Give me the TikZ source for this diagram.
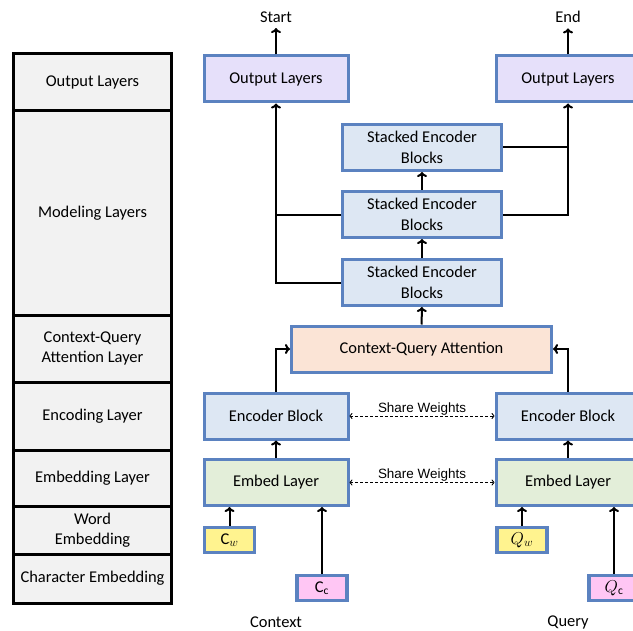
\documentclass[tikz,border=0pt]{standalone}
\usepackage{fontspec}
\setmainfont{Carlito}
\newfontfamily\arial{Liberation Sans}
\usetikzlibrary{arrows.meta}
\definecolor{bordure}{HTML}{5B82C0}
\definecolor{gris}{HTML}{F2F2F2}
\definecolor{violet}{HTML}{E6E0FA}
\definecolor{bleu}{HTML}{DDE7F3}
\definecolor{peche}{HTML}{FBE4D6}
\definecolor{vert}{HTML}{E3EED9}
\definecolor{jaune}{HTML}{FFF38F}
\definecolor{rose}{HTML}{FFC6F4}
\begin{document}
\begin{tikzpicture}[x=1bp,y=-1bp]
% Styles
\tikzstyle{couche}=[draw=black,line width=3bp,fill=gris,minimum width=158bp,inner sep=0pt,align=center]
\tikzstyle{bloc}=[draw=bordure,line width=3bp,minimum width=144bp,minimum height=46bp,inner sep=2bp,align=center]
\tikzstyle{entree}=[draw=bordure,line width=3.5bp,minimum width=50bp,minimum height=25bp,inner sep=0pt,font=\fontsize{16.5}{18}\selectfont]
\tikzstyle{fleche}=[-{To[length=5bp,width=10bp]},line width=2bp]
\tikzstyle{trait}=[line width=2bp]
\tikzstyle{partage}=[{To[length=3bp,width=6bp]}-{To[length=3bp,width=6bp]},line width=0.9bp,dash pattern=on 3bp off 2bp]
\tikzstyle{poids}=[font=\arial\fontsize{13.5}{15}\selectfont,inner sep=0.5bp]
\fontsize{16.5}{20.5}\selectfont
% Cadre
\useasboundingbox (0,0) rectangle (633,631);
% Colonne de gauche
\node[couche,minimum height=57bp] (cSortie) at (92.5,82.5) {Output Layers};
\node[couche,minimum height=204bp] (cModele) at (92.5,213) {Modeling Layers};
\node[couche,minimum height=67bp] (cAttention) at (92.5,348.5) {Context-Query\\Attention Layer};
\node[couche,minimum height=68bp] (cEncodage) at (92.5,416) {Encoding Layer};
\node[couche,minimum height=56bp] (cPlongement) at (92.5,478) {Embedding Layer};
\node[couche,minimum height=48bp] (cMot) at (92.5,530) {Word\\Embedding};
\node[couche,minimum height=49bp] (cCaractere) at (92.5,578.5) {Character Embedding};
% Sorties
\node (debut) at (276,17) {Start};
\node (fin) at (568,17) {End};
\node[bloc,fill=violet] (sortieG) at (276,79) {Output Layers};
\node[bloc,fill=violet] (sortieD) at (568,79) {Output Layers};
% Blocs empiles
\node[bloc,fill=bleu,minimum width=159bp] (pile3) at (422,147.5) {Stacked Encoder\\Blocks};
\node[bloc,fill=bleu,minimum width=159bp] (pile2) at (422,214.5) {Stacked Encoder\\Blocks};
\node[bloc,fill=bleu,minimum width=159bp] (pile1) at (422,282.5) {Stacked Encoder\\Blocks};
% Attention
\node[bloc,fill=peche,minimum width=260bp] (attention) at (421.5,349) {Context-Query Attention};
% Encodage et plongement
\node[bloc,fill=bleu] (encG) at (276,416) {Encoder Block};
\node[bloc,fill=bleu] (encD) at (568,416) {Encoder Block};
\node[bloc,fill=vert] (plongG) at (276,482.5) {Embed Layer};
\node[bloc,fill=vert] (plongD) at (568,482.5) {Embed Layer};
% Entrees
\node[entree,fill=jaune] (cw) at (229.5,540) {$\mathrm{C}_w$};
\node[entree,fill=rose] (cc) at (322,588) {$\mathrm{C}_\mathrm{c}$};
\node[entree,fill=jaune] (qw) at (522,540) {$Q_w$};
\node[entree,fill=rose] (qc) at (614,588) {$Q_\mathrm{c}$};
\node (contexte) at (276,622) {Context};
\node (question) at (568,622) {Query};
% Fleches
\draw[fleche] (sortieG) -- (debut);
\draw[fleche] (sortieD) -- (fin);
\draw[fleche] (pile1) -- (pile2);
\draw[fleche] (pile2) -- (pile3);
\draw[fleche] (attention) -- (pile1);
\draw[fleche] (pile1.west) -| (sortieG.south);
\draw[trait] (pile2.west) -- (pile2.west -| sortieG.south);
\draw[fleche] (pile2.east) -| (sortieD.south);
\draw[trait] (pile3.east) -- (pile3.east -| sortieD.south);
\draw[fleche] (encG.north) |- (attention.west);
\draw[fleche] (encD.north) |- (attention.east);
\draw[fleche] (plongG) -- (encG);
\draw[fleche] (plongD) -- (encD);
\draw[fleche] (cw) -- (cw |- plongG.south);
\draw[fleche] (cc) -- (cc |- plongG.south);
\draw[fleche] (qw) -- (qw |- plongD.south);
\draw[fleche] (qc) -- (qc |- plongD.south);
% Poids partages
\draw[partage] (encG) -- (encD) node[poids,midway,above] {Share Weights};
\draw[partage] (plongG) -- (plongD) node[poids,midway,above] {Share Weights};
\end{tikzpicture}
\end{document}
